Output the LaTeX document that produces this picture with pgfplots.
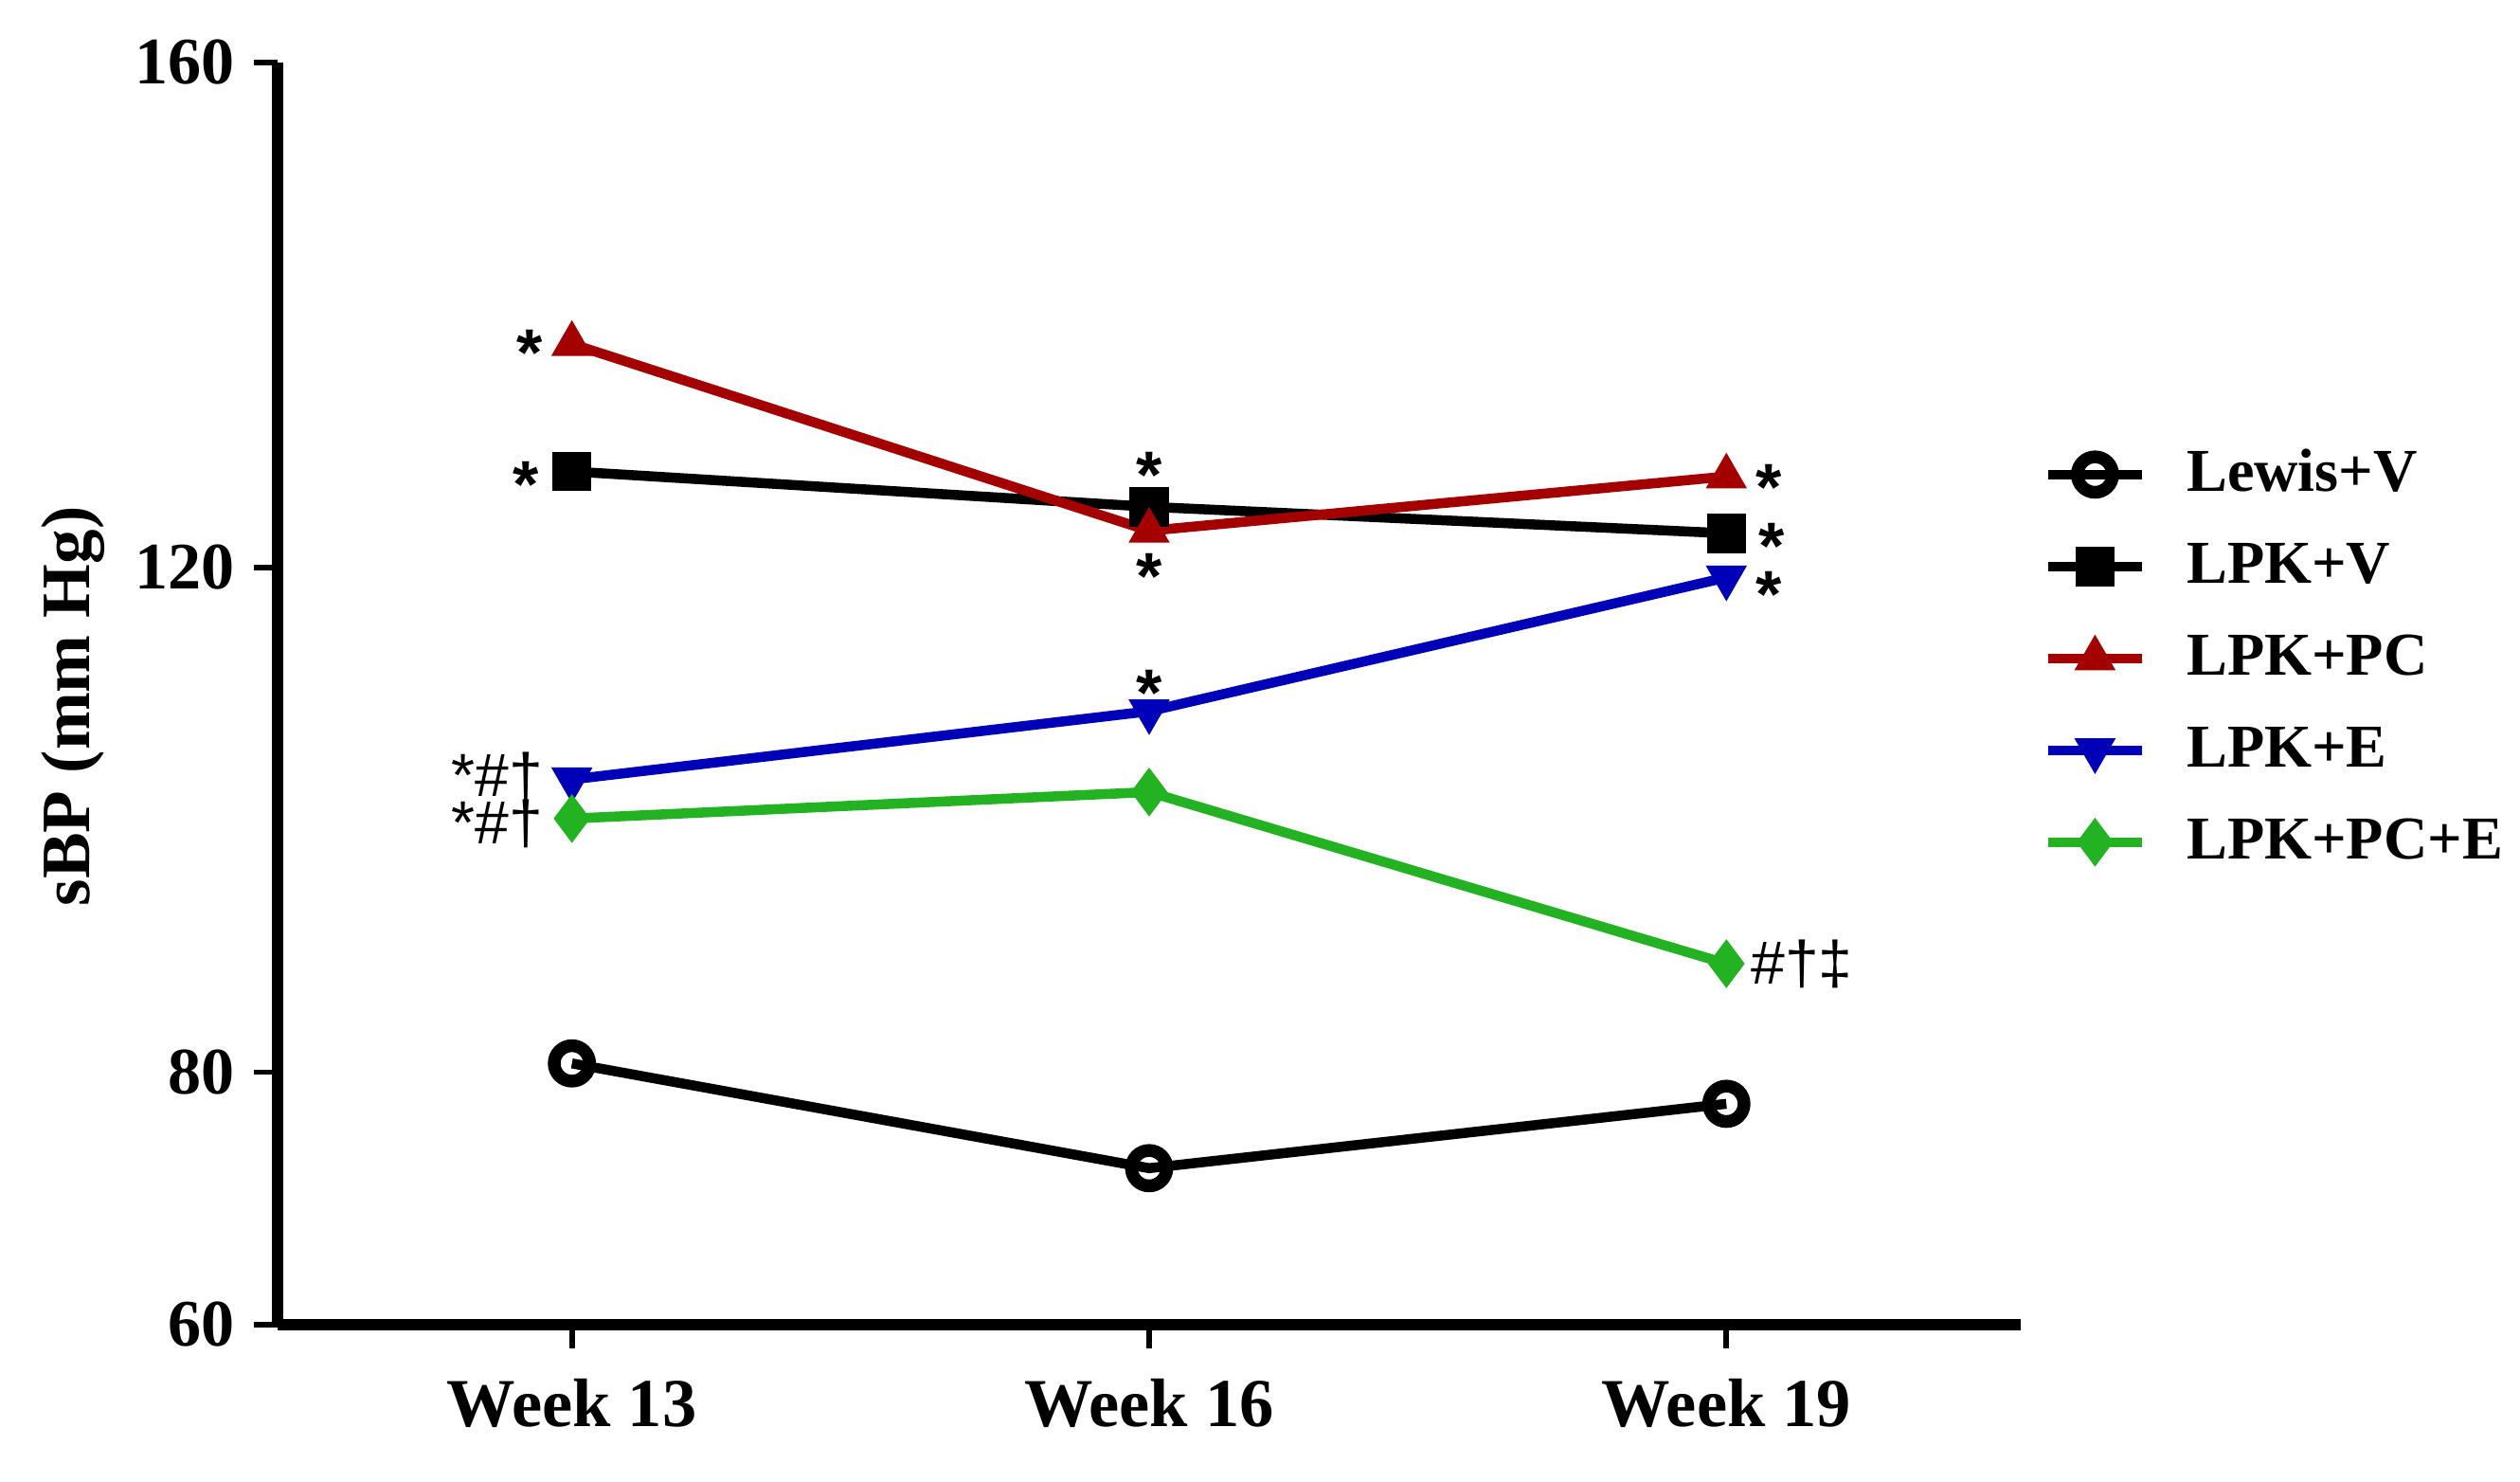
\documentclass[border=0pt]{standalone}
\usepackage{pgfplots}
\pgfplotsset{compat=1.18}
\usepackage{fontspec}
\setmainfont{Liberation Serif}
\setsansfont{Liberation Sans}

\definecolor{pcred}{RGB}{165,0,0}
\definecolor{eblue}{RGB}{0,0,185}
\definecolor{pcegreen}{RGB}{34,178,34}

\newcommand{\lblfont}{\bfseries\fontsize{12.4}{14}\selectfont}
\newcommand{\sig}{\sffamily\bfseries\fontsize{12}{14}\selectfont}
\newcommand{\sigb}{\sffamily\fontsize{11}{13}\selectfont}

\begin{document}
\begin{tikzpicture}
\path[use as bounding box] (-1.762,-0.998) rectangle (14.238,8.409);
\begin{axis}[
    scale only axis,
    width=11.068cm, height=8.012cm,
    xmin=-0.51, xmax=2.51,
    ymin=60, ymax=160,
    axis x line*=bottom,
    axis y line*=left,
    axis line style={line width=2pt},
    xtick={0,1,2},
    xticklabels={Week 13, Week 16, Week 19},
    ytick={60,80,120,160},
    tick align=outside,
    major tick length=0.15cm,
    tick style={line width=1pt, black},
    tick label style={font=\lblfont},
    yticklabel style={font=\bfseries\fontsize{12}{14}\selectfont},
    xticklabel style={yshift=-0.07cm},
    /pgf/number format/assume math mode=true,
    ylabel={sBP (mm Hg)},
    ylabel style={font=\bfseries\fontsize{12.5}{14}\selectfont, at={(axis description cs:-0.1175,0.49)}, anchor=center},
    clip=false,
    legend style={draw=none, fill=none, at={(1.012,0.7095)}, anchor=north west,
        inner sep=0pt, row sep=0.6pt, font=\bfseries\fontsize{11}{13}\selectfont,
        nodes={text height=9pt, text depth=3pt, inner sep=2pt},
        /tikz/every odd column/.append style={column sep=0.18cm}},
    legend cell align=left,
    every axis plot/.append style={line width=1.8pt},
]
\addplot[black, mark=o, mark size=3.2pt, mark options={line width=2.3pt}] coordinates {
    (0,80.7) (1,72.4) (2,77.5)
};
\addplot[black, mark=square*, mark size=3.3pt, mark options={line width=0.5pt}] coordinates {
    (0,127.6) (1,124.8) (2,122.7)
};
\addplot[pcred, mark=triangle*, mark size=3.8pt, mark options={line width=0.5pt}] coordinates {
    (0,137.7) (1,122.9) (2,127.2)
};
\addplot[eblue, mark=triangle*, mark size=3.8pt, mark options={line width=0.5pt, rotate=180}] coordinates {
    (0,103.2) (1,108.6) (2,119.2)
};
\addplot[pcegreen, mark=diamond*, mark size=4pt, mark options={line width=0.5pt}] coordinates {
    (0,100.1) (1,102.2) (2,88.6)
};
\legend{Lewis+V, LPK+V, LPK+PC, LPK+E, LPK+PC+E}

% significance markers
\tikzset{sg/.style={font=\sig, inner sep=0pt}, sgb/.style={font=\sigb, inner sep=0pt}}
\node[sg, anchor=east, xshift=-0.18cm, yshift=-1.6pt] at (axis cs:0,137.7) {*};
\node[sg, anchor=east, xshift=-0.2cm, yshift=-2.3pt] at (axis cs:0,127.6) {*};
\node[sg, anchor=center, yshift=0.2cm] at (axis cs:1,124.8) {*};
\node[sg, anchor=center, yshift=-0.29cm] at (axis cs:1,122.9) {*};
\node[sg, anchor=west, xshift=0.18cm, yshift=-2pt] at (axis cs:2,127.2) {*};
\node[sg, anchor=west, xshift=0.2cm, yshift=-2.3pt] at (axis cs:2,122.7) {*};
\node[sg, anchor=west, xshift=0.18cm, yshift=-3.1pt] at (axis cs:2,119.2) {*};
\node[sg, anchor=center, yshift=0.205cm-2.5pt] at (axis cs:1,108.6) {*};
\node[sgb, anchor=east, xshift=-0.175cm, yshift=0.5pt] at (axis cs:0,103.2) {*\#†};
\node[sgb, anchor=east, xshift=-0.175cm, yshift=-1pt] at (axis cs:0,100.1) {*\#†};
\node[sgb, anchor=west, xshift=0.15cm] at (axis cs:2,88.6) {\#†‡};
\end{axis}
\end{tikzpicture}
\end{document}
